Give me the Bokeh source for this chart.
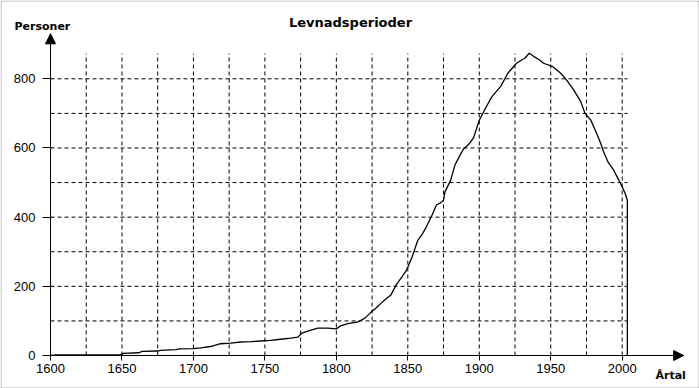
from bokeh.plotting import figure
from bokeh.models import Range1d, LinearAxis, FixedTicker, Arrow, NormalHead, Label, BoxAnnotation
from bokeh.embed import file_html
from bokeh.resources import INLINE

# ---- data ----
years = [1600, 1604, 1649, 1651, 1662, 1664, 1675, 1677, 1688, 1690, 1700, 1705,
         1712, 1719, 1726, 1733, 1740, 1747, 1754, 1761, 1768, 1773, 1776, 1781,
         1787, 1794, 1800, 1803, 1808, 1815, 1820, 1824, 1828, 1831, 1834, 1838,
         1842, 1846, 1849, 1853, 1857, 1860, 1863, 1867, 1870, 1873, 1875, 1876,
         1880, 1883, 1886, 1889, 1893, 1896, 1900, 1905, 1909, 1915, 1920, 1926,
         1932, 1935, 1938, 1942, 1945, 1951, 1957, 1961, 1966, 1971, 1974, 1978,
         1982, 1985, 1987, 1990, 1994, 1997, 2000, 2002, 2003.6, 2003.6]
persons = [0, 2, 2, 6, 8, 12, 13, 15, 17, 19, 20, 22,
           26, 34, 36, 39, 40, 42, 44, 47, 50, 53, 65, 72,
           79, 79, 77, 86, 92, 97, 108, 124, 138, 150, 161, 174,
           205, 228, 246, 285, 333, 350, 372, 406, 435, 442, 449, 473,
           507, 551, 575, 597, 612, 630, 680, 720, 749, 778, 816, 845,
           860, 874, 865, 855, 845, 836, 816, 797, 768, 734, 700, 681,
           643, 613, 589, 560, 536, 512, 488, 469, 449, 0]

x_ticks = [1600, 1650, 1700, 1750, 1800, 1850, 1900, 1950, 2000]
y_ticks = [0, 200, 400, 600, 800]
grid_years = [1625, 1650, 1675, 1700, 1725, 1750, 1775, 1800, 1825, 1850,
              1875, 1900, 1925, 1950, 1975, 2000]
grid_persons = [100, 200, 300, 400, 500, 600, 700, 800]

# ---- layout constants ----
X0, X1 = 1565.02, 2054.08
Y0, Y1 = -95.4, 1026.4
GRID_TOP = 873
GRID_RIGHT = 2003.7
X_ARROW = 2043
Y_ARROW = 930
AXIS_X = 1600
AXIS_Y = 0

p = figure(width=699, height=388, x_range=Range1d(X0, X1), y_range=Range1d(Y0, Y1),
           x_axis_type=None, y_axis_type=None, toolbar_location=None,
           output_backend="svg", min_border=0, min_border_left=0,
           min_border_right=0, min_border_top=0, min_border_bottom=0)
p.outline_line_color = None
p.background_fill_color = "white"
p.border_fill_color = "white"

# frame border around the whole picture
p.add_layout(BoxAnnotation(left=0.5, right=698.5, bottom=0.5, top=387.5,
                           left_units="screen", right_units="screen",
                           bottom_units="screen", top_units="screen",
                           fill_alpha=0, line_color="black", line_width=1))

# grid
p.segment(x0=grid_years, y0=[AXIS_Y] * len(grid_years), x1=grid_years,
          y1=[GRID_TOP] * len(grid_years), line_color="black", line_width=1,
          line_dash="4 3")
p.segment(x0=[AXIS_X] * len(grid_persons), y0=grid_persons,
          x1=[GRID_RIGHT] * len(grid_persons), y1=grid_persons,
          line_color="black", line_width=1, line_dash="4 3")

# axes
common = dict(major_label_text_font="Liberation Sans", major_label_text_font_size="13px",
              major_label_text_color="black", axis_line_color="black",
              major_tick_line_color="black", minor_tick_in=0, minor_tick_out=0)
xaxis = LinearAxis(fixed_location=AXIS_Y, ticker=FixedTicker(ticks=x_ticks),
                   bounds=(AXIS_X, X_ARROW), major_tick_in=0, major_tick_out=5,
                   major_label_standoff=3, **common)
yaxis = LinearAxis(fixed_location=AXIS_X, ticker=FixedTicker(ticks=y_ticks),
                   bounds=(AXIS_Y, Y_ARROW), major_tick_in=2, major_tick_out=8,
                   major_label_standoff=7, **common)
p.add_layout(xaxis, "below")
p.add_layout(yaxis, "left")

p.add_layout(Arrow(end=NormalHead(size=10, fill_color="black", line_color="black"),
                   x_start=AXIS_X, y_start=AXIS_Y, x_end=X_ARROW, y_end=AXIS_Y,
                   line_color=None))
p.add_layout(Arrow(end=NormalHead(size=10, fill_color="black", line_color="black"),
                   x_start=AXIS_X, y_start=AXIS_Y, x_end=AXIS_X, y_end=Y_ARROW,
                   line_color=None))

# data line
p.line(years, persons, line_color="black", line_width=1.3)

# texts
p.add_layout(Label(x=350, y=366, x_units="screen", y_units="screen", text="Levnadsperioder",
                   text_font="DejaVu Sans", text_font_style="bold", text_font_size="13px",
                   text_align="center", text_baseline="alphabetic", text_color="black"))
p.add_layout(Label(x=14, y=362, x_units="screen", y_units="screen", text="Personer",
                   text_font="DejaVu Sans", text_font_style="bold", text_font_size="11px",
                   text_align="left", text_baseline="alphabetic", text_color="black"))
p.add_layout(Label(x=655, y=13, x_units="screen", y_units="screen", text="Årtal",
                   text_font="DejaVu Sans", text_font_style="bold", text_font_size="11px",
                   text_align="left", text_baseline="alphabetic", text_color="black"))

open("out.html", "w").write(file_html(p, INLINE))
